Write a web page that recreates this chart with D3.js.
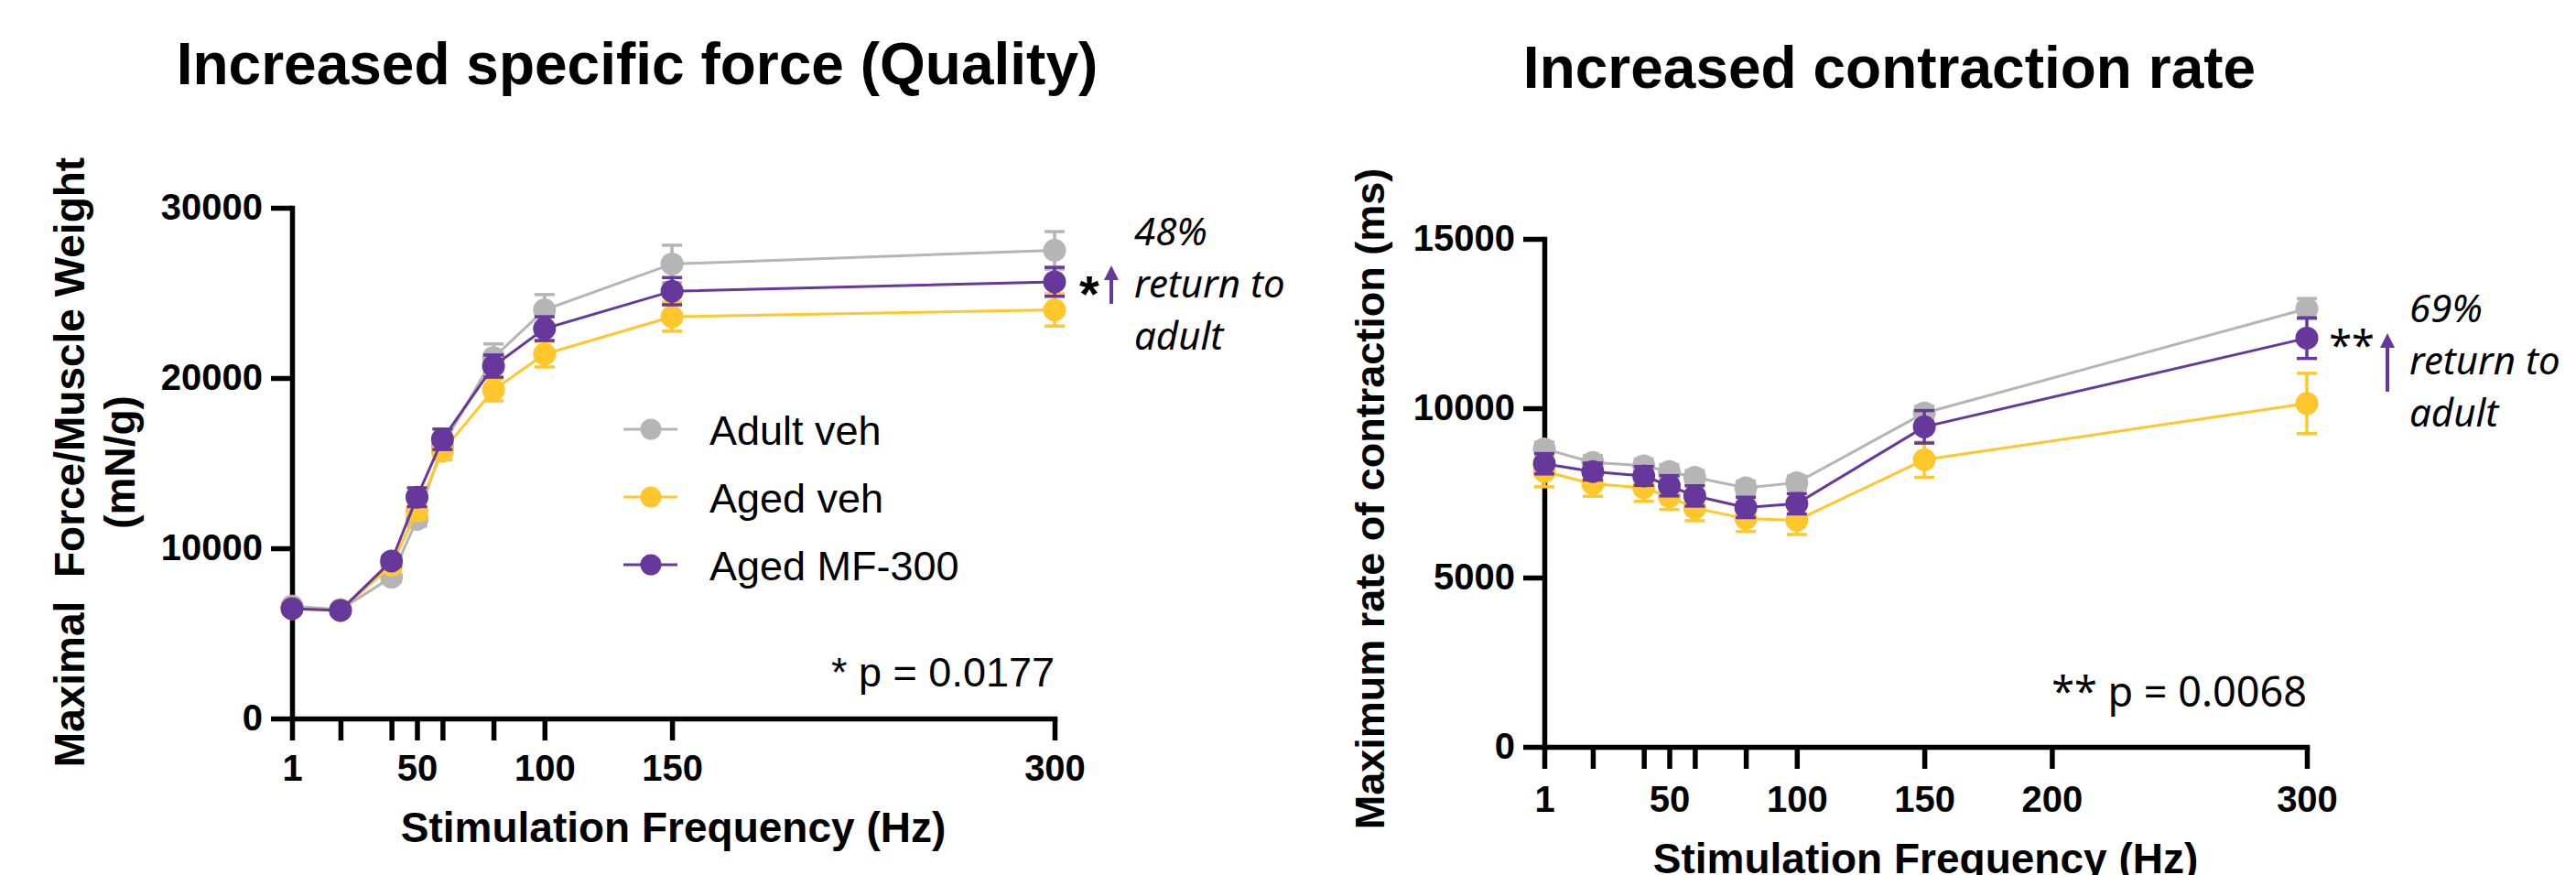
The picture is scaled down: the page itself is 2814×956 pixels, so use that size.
<!DOCTYPE html>
<meta charset="utf-8">
<script src="https://d3js.org/d3.v7.min.js"></script>
<style>
  body { margin: 0; background: #fff; }
  text { font-family: "Liberation Sans", Arial, sans-serif; }
</style>
<div id="chart"></div>
<script>

// stimulation frequencies (Hz), shared by both panels
var freqs = [1, 20, 40, 50, 60, 80, 100, 150, 300];
var groups = ["Adult veh", "Aged veh", "Aged MF-300"];
var colors = ["#b5b5b5", "#ffc72c", "#67389c"];

// left panel: maximal force / muscle weight (mN/g), mean and SEM
var forceAdult    = [6600, 6400, 8300, 11700, 16000, 21200, 24000, 26700, 27500];
var forceAdultErr = [200, 150, 300, 400, 500, 800, 900, 1100, 1100];
var forceAged     = [6450, 6350, 9000, 12200, 15700, 19300, 21400, 23600, 24000];
var forceAgedErr  = [200, 150, 400, 500, 500, 650, 750, 850, 950];
var forceMF       = [6450, 6350, 9250, 13000, 16400, 20700, 22900, 25100, 25650];
var forceMFErr    = [200, 150, 300, 550, 600, 650, 700, 800, 850];

// right panel: maximum rate of contraction (ms), mean and SEM
var rateAdult    = [8800, 8400, 8300, 8130, 7960, 7650, 7800, 9860, 12940];
var rateAdultErr = [200, 200, 200, 200, 200, 200, 200, 200, 300];
var rateAged     = [8130, 7770, 7650, 7390, 7050, 6740, 6690, 8480, 10140];
var rateAgedErr  = [450, 370, 400, 380, 370, 380, 420, 520, 890];
var rateMF       = [8360, 8130, 8000, 7710, 7410, 7070, 7180, 9450, 12070];
var rateMFErr    = [300, 250, 280, 300, 300, 300, 300, 480, 600];

// axis ticks
var forceYTicks = [0, 10000, 20000, 30000];
var forceXLabels = [1, 50, 100, 150, 300];
var rateYTicks = [0, 5000, 10000, 15000];
var rateXTicks = [1, 20, 40, 50, 60, 80, 100, 150, 200, 300];
var rateXLabels = [1, 50, 100, 150, 200, 300];

var width = 2814, height = 956;

var svg = d3.select("#chart")
  .append("svg")
  .attr("width", width)
  .attr("height", height)
  .style("background", "#fff");

function drawPanel(p) {
  var x = d3.scaleLinear().domain([1, 300]).range([p.left, p.right]);
  var y = d3.scaleLinear().domain([0, p.yMax]).range([p.bottom, p.top]);
  var g = svg.append("g");

  // title
  g.append("text")
    .attr("x", p.titleX)
    .attr("y", p.titleY)
    .attr("text-anchor", "middle")
    .style("font-size", "64px")
    .style("font-weight", "bold")
    .text(p.title);

  // x axis
  var xAxis = g.append("g")
    .attr("transform", "translate(0," + p.bottom + ")")
    .call(d3.axisBottom(x)
      .tickValues(p.xTicks)
      .tickFormat(function(d) { return p.xLabels.indexOf(d) >= 0 ? d : ""; })
      .tickSize(24)
      .tickSizeOuter(0)
      .tickPadding(p.xPad));

  // y axis
  var yAxis = g.append("g")
    .attr("transform", "translate(" + p.left + ",0)")
    .call(d3.axisLeft(y)
      .tickValues(p.yTicks)
      .tickFormat(d3.format("d"))
      .tickSize(23)
      .tickSizeOuter(0)
      .tickPadding(9));

  [xAxis, yAxis].forEach(function(a) {
    a.select(".domain").attr("stroke", "#000").attr("stroke-width", 5.5).attr("stroke-linecap", "square");
    a.selectAll(".tick line").attr("stroke", "#000").attr("stroke-width", 5.5);
    a.selectAll(".tick text")
      .attr("fill", "#000")
      .style("font-size", "40px")
      .style("font-weight", "bold")
      .style("font-family", "'Liberation Sans', Arial, sans-serif");
  });

  // axis titles
  g.append("text")
    .attr("x", (p.left + p.right) / 2)
    .attr("y", p.xTitleY)
    .attr("text-anchor", "middle")
    .style("font-size", "46px")
    .style("font-weight", "bold")
    .text("Stimulation Frequency (Hz)");

  p.yTitles.forEach(function(t) {
    g.append("text")
      .attr("transform", "translate(" + t.x + "," + t.y + ") rotate(-90)")
      .attr("text-anchor", "middle")
      .style("font-size", t.size + "px")
      .style("font-weight", "bold")
      .style("white-space", "pre")
      .text(t.text);
  });

  // series: line, error bars, markers
  var line = d3.line()
    .x(function(d) { return x(d.f); })
    .y(function(d) { return y(d.v); });

  p.series.forEach(function(s, i) {
    var pts = freqs.map(function(f, j) { return {f: f, v: s.values[j], e: s.errors[j]}; });
    var sg = g.append("g");

    sg.append("path")
      .datum(pts)
      .attr("d", line)
      .attr("fill", "none")
      .attr("stroke", colors[i])
      .attr("stroke-width", 3);

    var eb = sg.selectAll(".err")
      .data(pts)
      .enter()
      .append("g")
      .attr("stroke", colors[i])
      .attr("stroke-width", 3.5);
    eb.append("line")
      .attr("x1", function(d) { return x(d.f); })
      .attr("x2", function(d) { return x(d.f); })
      .attr("y1", function(d) { return y(d.v - d.e); })
      .attr("y2", function(d) { return y(d.v + d.e); });
    eb.append("line")
      .attr("x1", function(d) { return x(d.f) - 11; })
      .attr("x2", function(d) { return x(d.f) + 11; })
      .attr("y1", function(d) { return y(d.v + d.e); })
      .attr("y2", function(d) { return y(d.v + d.e); });
    eb.append("line")
      .attr("x1", function(d) { return x(d.f) - 11; })
      .attr("x2", function(d) { return x(d.f) + 11; })
      .attr("y1", function(d) { return y(d.v - d.e); })
      .attr("y2", function(d) { return y(d.v - d.e); });

    sg.selectAll(".dot")
      .data(pts)
      .enter()
      .append("circle")
      .attr("cx", function(d) { return x(d.f); })
      .attr("cy", function(d) { return y(d.v); })
      .attr("r", 12.5)
      .attr("fill", colors[i]);
  });

  // p value note
  g.append("text")
    .attr("x", x(300))
    .attr("y", p.pY)
    .attr("text-anchor", "end")
    .style("font-size", "45px")
    .style("font-family", p.pFont)
    .text(p.pText);

  // significance stars, arrow and note
  g.append("text")
    .attr("x", p.starX)
    .attr("y", p.starY)
    .attr("text-anchor", "middle")
    .style("font-size", p.starSize + "px")
    .style("font-weight", p.starWeight)
    .style("font-family", p.pFont)
    .text(p.star);

  g.append("line")
    .attr("x1", p.arrowX).attr("x2", p.arrowX)
    .attr("y1", p.arrowY0).attr("y2", p.arrowY1 + 14)
    .attr("stroke", colors[2])
    .attr("stroke-width", 4);
  g.append("path")
    .attr("d", "M" + (p.arrowX - 8) + "," + (p.arrowY1 + 16) +
               "L" + p.arrowX + "," + p.arrowY1 +
               "L" + (p.arrowX + 8) + "," + (p.arrowY1 + 16) + "Z")
    .attr("fill", colors[2]);

  p.note.forEach(function(t, k) {
    g.append("text")
      .attr("x", p.noteX)
      .attr("y", p.noteY + k * 57)
      .style("font-size", "42px")
      .style("font-style", "italic")
      .style("font-family", "'Noto Sans', sans-serif")
      .text(t);
  });

  return {x: x, y: y, g: g};
}

// left panel
var left = drawPanel({
  left: 319, right: 1152, top: 227, bottom: 785, yMax: 30000,
  title: "Increased specific force (Quality)", titleX: 696, titleY: 92,
  xTicks: freqs, xLabels: forceXLabels, xPad: 16, yTicks: forceYTicks,
  xTitleY: 920,
  yTitles: [
    {text: "Maximal  Force/Muscle Weight", x: 92, y: 505, size: 46},
    {text: "(mN/g)", x: 147, y: 505, size: 46}
  ],
  series: [
    {values: forceAdult, errors: forceAdultErr},
    {values: forceAged, errors: forceAgedErr},
    {values: forceMF, errors: forceMFErr}
  ],
  pText: "* p = 0.0177", pY: 750, pFont: "'Liberation Sans', Arial, sans-serif",
  star: "*", starX: 1190, starY: 340, starSize: 56, starWeight: "bold",
  arrowX: 1214, arrowY0: 332, arrowY1: 290,
  note: ["48%", "return to", "adult"], noteX: 1239, noteY: 268
});

// legend (left panel)
var legendRows = [469, 543, 617];
var legend = left.g.selectAll(".legend")
  .data(groups)
  .enter()
  .append("g")
  .attr("transform", function(d, i) { return "translate(711," + legendRows[i] + ")"; });
legend.append("line")
  .attr("x1", -30).attr("x2", 29)
  .attr("stroke", function(d, i) { return colors[i]; })
  .attr("stroke-width", 3);
legend.append("circle")
  .attr("r", 11.5)
  .attr("fill", function(d, i) { return colors[i]; });
legend.append("text")
  .attr("x", 64)
  .attr("y", 17)
  .style("font-size", "45px")
  .text(function(d) { return d; });

// right panel
drawPanel({
  left: 1687, right: 2520, top: 261, bottom: 816, yMax: 15000,
  title: "Increased contraction rate", titleX: 2064, titleY: 96,
  xTicks: rateXTicks, xLabels: rateXLabels, xPad: 19, yTicks: rateYTicks,
  xTitleY: 954,
  yTitles: [
    {text: "Maximum rate of contraction (ms)", x: 1512, y: 545, size: 45}
  ],
  series: [
    {values: rateAdult, errors: rateAdultErr},
    {values: rateAged, errors: rateAgedErr},
    {values: rateMF, errors: rateMFErr}
  ],
  pText: "** p = 0.0068", pY: 772, pFont: "'Noto Sans', sans-serif",
  star: "**", starX: 2569, starY: 394, starSize: 45, starWeight: "normal",
  arrowX: 2608, arrowY0: 428, arrowY1: 364,
  note: ["69%", "return to", "adult"], noteX: 2632, noteY: 352
});

</script>
